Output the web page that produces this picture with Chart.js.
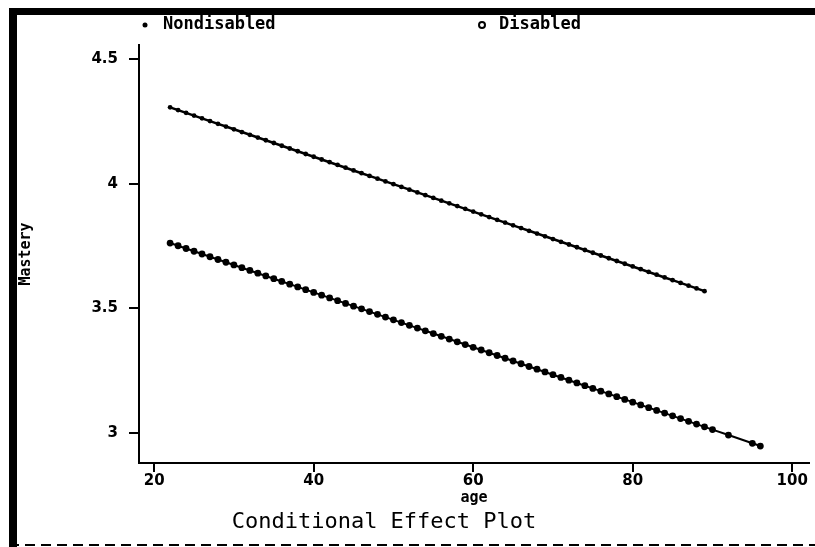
<!DOCTYPE html>
<html>
<head>
<meta charset="utf-8">
<script src="https://cdn.jsdelivr.net/npm/chart.js@4"></script>
<style>
  html, body { margin: 0; padding: 0; background: #fff; }
</style>
</head>
<body>
<canvas id="chart" width="815" height="547"></canvas>
<script>
// ages and predicted mastery
const agesNondisabled = [22, 23, 24, 25, 26, 27, 28, 29, 30, 31, 32, 33, 34, 35, 36, 37, 38, 39, 40, 41, 42, 43, 44, 45,
  46, 47, 48, 49, 50, 51, 52, 53, 54, 55, 56, 57, 58, 59, 60, 61, 62, 63, 64, 65, 66, 67, 68, 69, 70, 71, 72, 73, 74,
  75, 76, 77, 78, 79, 80, 81, 82, 83, 84, 85, 86, 87, 88, 89];
const masteryNondisabled = [4.306, 4.295, 4.284, 4.273, 4.262, 4.251, 4.240, 4.229, 4.218, 4.207, 4.196, 4.185, 4.174,
  4.163, 4.152, 4.141, 4.130, 4.119, 4.108, 4.097, 4.086, 4.075, 4.064, 4.053, 4.042, 4.031, 4.020, 4.009, 3.998, 3.987,
  3.976, 3.965, 3.954, 3.943, 3.932, 3.921, 3.910, 3.899, 3.888, 3.877, 3.866, 3.855, 3.844, 3.833, 3.822, 3.811, 3.800,
  3.789, 3.778, 3.767, 3.756, 3.745, 3.734, 3.723, 3.712, 3.701, 3.690, 3.679, 3.668, 3.657, 3.646, 3.635, 3.624, 3.613,
  3.602, 3.591, 3.580, 3.569];

const agesDisabled = [22, 23, 24, 25, 26, 27, 28, 29, 30, 31, 32, 33, 34, 35, 36, 37, 38, 39, 40, 41, 42, 43, 44, 45,
  46, 47, 48, 49, 50, 51, 52, 53, 54, 55, 56, 57, 58, 59, 60, 61, 62, 63, 64, 65, 66, 67, 68, 69, 70, 71, 72, 73, 74,
  75, 76, 77, 78, 79, 80, 81, 82, 83, 84, 85, 86, 87, 88, 89, 90, 92, 95, 96];
const masteryDisabled = [3.762, 3.751, 3.740, 3.729, 3.718, 3.707, 3.696, 3.685, 3.674, 3.663, 3.652, 3.641, 3.630,
  3.619, 3.608, 3.597, 3.586, 3.575, 3.564, 3.553, 3.542, 3.531, 3.520, 3.509, 3.498, 3.487, 3.476, 3.465, 3.454, 3.443,
  3.432, 3.421, 3.410, 3.399, 3.388, 3.377, 3.366, 3.355, 3.344, 3.333, 3.322, 3.311, 3.300, 3.289, 3.278, 3.267, 3.256,
  3.245, 3.234, 3.223, 3.212, 3.201, 3.190, 3.179, 3.168, 3.157, 3.146, 3.135, 3.124, 3.113, 3.102, 3.091, 3.080, 3.069,
  3.058, 3.047, 3.036, 3.025, 3.014, 2.992, 2.959, 2.948];

const seriesNames = ["Nondisabled", "Disabled"];
const xTicks = [20, 40, 60, 80, 100];
const yTicks = [3, 3.5, 4, 4.5];
const chartTitle = "Conditional Effect Plot";

const MONO = "'DejaVu Sans Mono', monospace";
const SANS = "'DejaVu Sans', sans-serif";

const toPoints = (xs, ys) => xs.map((x, i) => ({ x: x, y: ys[i] }));

// frame, legend and bottom title, drawn by hand like the old stata output
const decorations = {
  id: "decorations",
  afterDraw(chart) {
    const ctx = chart.ctx;
    ctx.save();
    ctx.fillStyle = "#000";
    ctx.strokeStyle = "#000";

    // frame
    ctx.fillRect(9, 8, 8, 539);
    ctx.fillRect(9, 8, 806, 7);
    ctx.lineWidth = 2;
    ctx.setLineDash([10, 6]);
    ctx.beginPath();
    ctx.moveTo(9, 545);
    ctx.lineTo(815, 545);
    ctx.stroke();
    ctx.setLineDash([]);

    // legend
    ctx.font = "bold 17px " + MONO;
    ctx.textBaseline = "middle";
    ctx.textAlign = "left";
    ctx.beginPath();
    ctx.arc(145, 25, 2.5, 0, Math.PI * 2);
    ctx.fill();
    ctx.fillText(seriesNames[0], 163, 25);
    ctx.lineWidth = 2;
    ctx.beginPath();
    ctx.arc(482, 25, 3, 0, Math.PI * 2);
    ctx.stroke();
    ctx.fillText(seriesNames[1], 499, 25);

    // title
    ctx.font = "22px " + MONO;
    ctx.textAlign = "center";
    ctx.fillText(chartTitle, 384, 522);
    ctx.restore();
  },
};

const ctx = document.getElementById("chart").getContext("2d");

new Chart(ctx, {
  type: "line",
  data: {
    datasets: [
      {
        label: seriesNames[0],
        data: toPoints(agesNondisabled, masteryNondisabled),
        borderColor: "#000",
        borderWidth: 2.5,
        pointRadius: 2.4,
        pointBackgroundColor: "#000",
        pointBorderWidth: 0,
        fill: false,
        tension: 0,
      },
      {
        label: seriesNames[1],
        data: toPoints(agesDisabled, masteryDisabled),
        borderColor: "#000",
        borderWidth: 2,
        pointRadius: 3.4,
        pointBackgroundColor: "#000",
        pointBorderWidth: 0,
        fill: false,
        tension: 0,
      },
    ],
  },
  options: {
    responsive: false,
    animation: false,
    layout: {
      padding: { left: 0, right: 6, top: 45, bottom: 40 },
    },
    plugins: {
      legend: { display: false },
      tooltip: { enabled: false },
      title: { display: false },
    },
    scales: {
      x: {
        type: "linear",
        min: 18.1,
        max: 102.1,
        afterBuildTicks: (s) => {
          s.ticks = xTicks.map((v) => ({ value: v }));
        },
        afterFit: (s) => {
          s.height = 44;
        },
        grid: {
          display: true,
          drawOnChartArea: false,
          drawTicks: true,
          tickLength: 9,
          color: "#000",
          lineWidth: 2,
        },
        border: { display: true, color: "#000", width: 2 },
        ticks: {
          color: "#000",
          padding: 0,
          maxRotation: 0,
          autoSkip: false,
          font: { family: SANS, size: 15, weight: "bold" },
        },
        title: {
          display: true,
          text: "age",
          color: "#000",
          padding: 0,
          font: { family: MONO, size: 15, weight: "bold" },
        },
      },
      y: {
        type: "linear",
        min: 2.88,
        max: 4.556,
        afterBuildTicks: (s) => {
          s.ticks = yTicks.map((v) => ({ value: v }));
        },
        afterFit: (s) => {
          s.width = 139;
        },
        grid: {
          display: true,
          drawOnChartArea: false,
          drawTicks: true,
          tickLength: 10,
          color: "#000",
          lineWidth: 2,
        },
        border: { display: true, color: "#000", width: 2 },
        ticks: {
          color: "#000",
          padding: 11,
          callback: (v) => String(v),
          font: { family: SANS, size: 15, weight: "bold" },
        },
        title: {
          display: true,
          text: "Mastery",
          color: "#000",
          padding: { top: 17, bottom: 0 },
          font: { family: MONO, size: 15, weight: "bold" },
        },
      },
    },
  },
  plugins: [decorations],
});
</script>
</body>
</html>
